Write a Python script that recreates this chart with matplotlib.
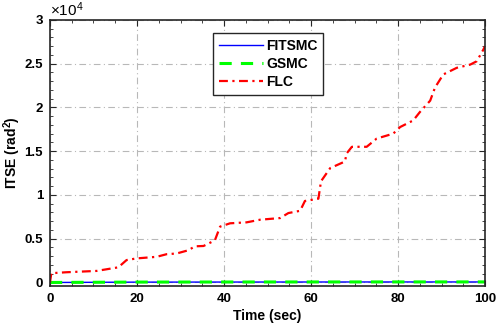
import matplotlib.pyplot as plt
import numpy as np

plt.rcParams['font.family'] = ['Liberation Sans', 'DejaVu Sans']
plt.rcParams['mathtext.fontset'] = 'custom'
plt.rcParams['mathtext.rm'] = 'Liberation Sans'
plt.rcParams['mathtext.bf'] = 'Liberation Sans:bold'

# FLC ITSE curve
t_flc = [0, 0.3, 3.8, 10.7, 15.7, 17.6, 19.9, 24.5, 26.8, 29.1, 31.8, 33.3, 35.3,
         37.9, 39.1, 41.4, 45.2, 48.3, 52.9, 54.8, 57.5, 58.6, 61.7, 62.3, 64.4,
         67.8, 68.2, 69.4, 72.8, 75.1, 78.9, 80.5, 83.5, 85.0, 87.4, 88.5, 90.4,
         93.5, 96.6, 98.1, 99.6, 100]
itse_flc = [0, 1060, 1170, 1320, 1730, 2560, 2750, 2930, 3230, 3310, 3680, 4130, 4170,
            4810, 6380, 6760, 6870, 7170, 7360, 7930, 8190, 9310, 9570, 11560, 13060,
            13820, 14750, 15500, 15500, 16440, 17000, 17760, 18510, 19450, 20770, 22260, 23760,
            24520, 24890, 25270, 26580, 27000]

# FITSMC and GSMC stay near zero
t_small = [0, 20, 40, 60, 80, 100]
itse_fitsmc = [0, 40, 50, 55, 60, 60]
itse_gsmc = [0, 45, 55, 60, 65, 65]

fig = plt.figure(figsize=(4.98, 3.31), dpi=100)
ax = fig.add_axes([0.1004, 0.136, 0.8735, 0.804])

ax.plot(t_small, itse_fitsmc, color='#0000ff', lw=1.0, label='FITSMC')
ax.plot(t_small, itse_gsmc, color='#00ff00', lw=2.2, ls=(0, (4, 3)), label='GSMC')
ax.plot(t_flc, itse_flc, color='#ff0000', lw=1.6, ls=(0, (4, 2, 1, 2)), label='FLC')

ax.set_xlim(0, 100)
ax.set_ylim(-400, 30000)
ax.set_xticks(np.arange(0, 101, 20))
ax.set_xticks(np.arange(0, 101, 5), minor=True)
ax.set_yticks(np.arange(0, 30001, 5000))
ax.set_yticklabels(['0', '0.5', '1', '1.5', '2', '2.5', '3'])
ax.set_yticks(np.arange(0, 30001, 1000), minor=True)

ax.grid(True, which='major', color='#b8b8b8', ls=(0, (6, 3, 1, 3)), lw=0.8)
ax.tick_params(which='both', direction='in', top=True, right=True, colors='#262626')
ax.tick_params(which='major', length=4, labelsize=9.5, pad=5)
ax.tick_params(which='minor', length=2)
for lab in ax.get_xticklabels() + ax.get_yticklabels():
    lab.set_fontweight('bold')
    lab.set_color('black')
for sp in ax.spines.values():
    sp.set_color('#262626')
    sp.set_linewidth(1.2)

ax.text(0.0, 1.005, r'$\times\mathregular{10^{4}}$', transform=ax.transAxes, fontsize=11,
        ha='left', va='bottom')

ax.set_xlabel('Time (sec)', fontsize=10, fontweight='bold', labelpad=3)
ax.set_ylabel(r'ITSE (rad$^\mathbf{2}$)', fontsize=10, fontweight='bold')
ax.yaxis.set_label_coords(-0.062, 0.5)

leg = ax.legend(loc='upper left', bbox_to_anchor=(0.375, 0.95),
                prop={'weight': 'bold', 'size': 10}, fancybox=False, framealpha=1,
                edgecolor='#262626', handlelength=3.2, handletextpad=0.2,
                borderpad=0.4, labelspacing=0.3, borderaxespad=0)
leg.get_frame().set_linewidth(1.0)

fig.savefig('out.png', dpi=100)
